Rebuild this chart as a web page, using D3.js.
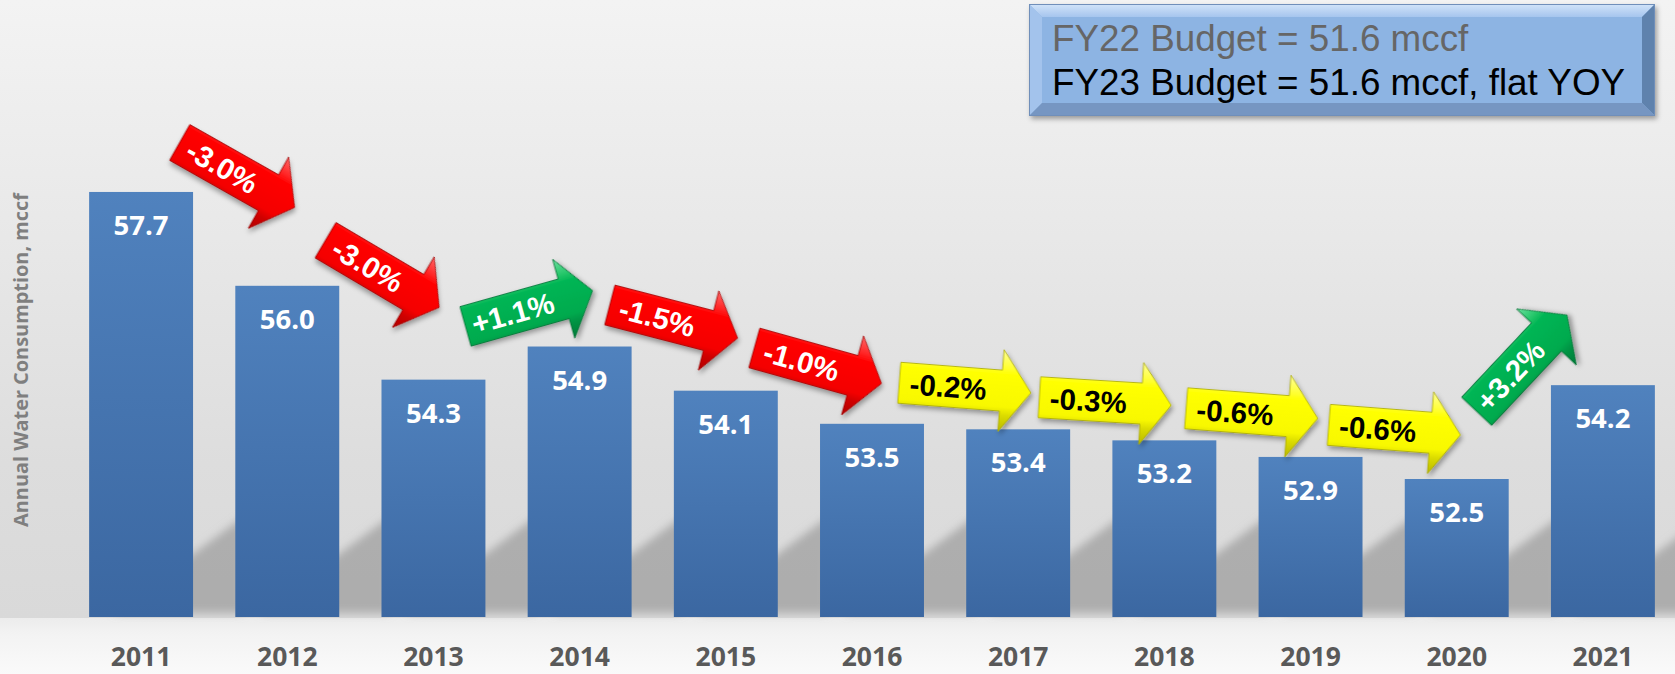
<!DOCTYPE html>
<html>
<head>
<meta charset="utf-8">
<script src="https://cdn.jsdelivr.net/npm/d3@7"></script>
<style>
  html, body { margin: 0; padding: 0; background: #ffffff; }
  svg { display: block; }
</style>
</head>
<body>
<svg id="chart" width="1675" height="674"></svg>
<script>
// ---------- data ----------
const years = ["2011","2012","2013","2014","2015","2016","2017","2018","2019","2020","2021"];
const consumption = [57.7, 56.0, 54.3, 54.9, 54.1, 53.5, 53.4, 53.2, 52.9, 52.5, 54.2];
const changeLabels = ["-3.0%","-3.0%","+1.1%","-1.5%","-1.0%","-0.2%","-0.3%","-0.6%","-0.6%","+3.2%"];
const budgetLines = ["FY22 Budget = 51.6 mccf", "FY23 Budget = 51.6 mccf, flat YOY"];
const yAxisTitle = "Annual Water Consumption, mccf";

// annotation layout for the change arrows (angle in degrees, offsets from gap midpoint / higher bar top)
const arrowAngles  = [29.5, 30.6, -15.7, 14.5, 15.6, 4.4, 3.5, 4.4, 4.4, -46.8];
const arrowShiftX  = [23, 22, 22.5, 21, 19, 20, 14, 14.5, 11, -8];
const arrowLiftY   = [17, 12, 38, 25, 25, 36, 28, 27, 27, 22];

// ---------- setup ----------
const W = 1675, H = 674;
const svg = d3.select("#chart");
const defs = svg.append("defs");

const x = d3.scaleBand().domain(years).range([68, 1676]).paddingInner(0.289).paddingOuter(0.1445);
const y = d3.scaleLinear().domain([50, 60]).range([617, 65]);
const baseY = y(50);

// background gradients
const wall = defs.append("linearGradient").attr("id","wall").attr("x1",0).attr("y1",0).attr("x2",0).attr("y2",1);
[[0,"#f3f3f3"],[0.35,"#e9e9e9"],[0.75,"#dddddd"],[1,"#d9d9d9"]].forEach(s=>wall.append("stop").attr("offset",s[0]).attr("stop-color",s[1]));
const floor = defs.append("linearGradient").attr("id","floor").attr("x1",0).attr("y1",0).attr("x2",0).attr("y2",1);
[[0,"#ececec"],[0.3,"#f3f3f3"],[1,"#fafafa"]].forEach(s=>floor.append("stop").attr("offset",s[0]).attr("stop-color",s[1]));

svg.append("rect").attr("x",0).attr("y",0).attr("width",W).attr("height",baseY+1).attr("fill","url(#wall)");
svg.append("rect").attr("x",0).attr("y",baseY+1).attr("width",W).attr("height",H-baseY-1).attr("fill","url(#floor)");

// bar gradient
const barGrad = defs.append("linearGradient").attr("id","barGrad").attr("x1",0).attr("y1",0).attr("x2",0).attr("y2",1);
[[0,"#5082be"],[1,"#3b67a1"]].forEach(s=>barGrad.append("stop").attr("offset",s[0]).attr("stop-color",s[1]));

// shadow blur
defs.append("filter").attr("id","shadowBlur").attr("x","-50%").attr("y","-50%").attr("width","200%").attr("height","200%")
  .append("feGaussianBlur").attr("stdDeviation",4);

// drop shadow for arrows / box
const ds = defs.append("filter").attr("id","drop").attr("x","-30%").attr("y","-30%").attr("width","160%").attr("height","160%");
ds.append("feDropShadow").attr("dx",2).attr("dy",3).attr("stdDeviation",2.5).attr("flood-color","#000").attr("flood-opacity",0.35);

// arrow gradients (in local frame: top edge light, bottom edge dark)
const arrowStyles = {
  red:    {stops:[[0,"#ff6a6a"],[0.22,"#ff2020"],[0.3,"#ff0000"],[0.7,"#f40000"],[0.8,"#d00000"],[1,"#b00000"]], stroke:"#a00000", text:"#ffffff"},
  green:  {stops:[[0,"#6fe0a0"],[0.22,"#20c466"],[0.3,"#00b554"],[0.7,"#00aa4e"],[0.8,"#009444"],[1,"#007a38"]], stroke:"#006e32", text:"#ffffff"},
  yellow: {stops:[[0,"#ffff9a"],[0.22,"#ffff30"],[0.3,"#ffff00"],[0.7,"#f8f800"],[0.8,"#dcdc00"],[1,"#b8b800"]], stroke:"#a8a800", text:"#000000"}
};
Object.entries(arrowStyles).forEach(([k,v])=>{
  const g = defs.append("linearGradient").attr("id","ag-"+k).attr("x1",0).attr("y1",0).attr("x2",0).attr("y2",1);
  v.stops.forEach(s=>g.append("stop").attr("offset",s[0]).attr("stop-color",s[1]));
});

// ---------- cast shadows of bars ----------
const bw = x.bandwidth();
svg.append("g").attr("filter","url(#shadowBlur)")
  .selectAll("path").data(years).join("path")
  .attr("d", d => {
    const x1 = x(d) + bw;
    return `M${x1-80},${baseY-4} L${x1+50},${baseY-4} L${x1+50},${baseY-100} Z`;
  })
  .attr("fill","#a2a2a2").attr("opacity",0.8);

// ---------- bars ----------
svg.append("g").selectAll("rect").data(years).join("rect")
  .attr("x", d => x(d))
  .attr("y", (d,i) => y(consumption[i]))
  .attr("width", bw)
  .attr("height", (d,i) => baseY - y(consumption[i]))
  .attr("fill","url(#barGrad)");

// value labels
svg.append("g").selectAll("text").data(years).join("text")
  .attr("x", d => x(d) + bw/2)
  .attr("y", (d,i) => y(consumption[i]) + 43)
  .attr("text-anchor","middle")
  .attr("font-family","'Open Sans', sans-serif").attr("font-weight",700).attr("font-size",27.5)
  .attr("fill","#ffffff")
  .text((d,i) => d3.format(".1f")(consumption[i]));

// ---------- x axis ----------
const xAxis = svg.append("g").attr("transform",`translate(0,${baseY})`)
  .call(d3.axisBottom(x).tickSize(0).tickPadding(30));
xAxis.select(".domain").remove();
xAxis.selectAll("text")
  .attr("font-family","'Open Sans', sans-serif").attr("font-weight",700).attr("font-size",26.5)
  .attr("fill","#595959");

// y axis title
svg.append("text")
  .attr("transform","translate(28,360) rotate(-90)")
  .attr("text-anchor","middle")
  .attr("font-family","'Open Sans', sans-serif").attr("font-weight",700).attr("font-size",20)
  .attr("fill","#7f7f7f")
  .attr("textLength",334).attr("lengthAdjust","spacingAndGlyphs")
  .text(yAxisTitle);

// ---------- change arrows ----------
const L = 132, headLen = 30, shaftH = 20.5, headH = 41;
const arrowPath = `M${-L/2},${-shaftH} L${L/2-headLen},${-shaftH} L${L/2-headLen},${-headH} L${L/2},0 L${L/2-headLen},${headH} L${L/2-headLen},${shaftH} L${-L/2},${shaftH} Z`;

const arrowData = changeLabels.map((lab,i) => {
  const v = parseFloat(lab);
  const kind = v > 0 ? "green" : (v <= -1 ? "red" : "yellow");
  const mid = (x(years[i]) + x(years[i+1]) + bw) / 2;
  const top = y(Math.max(consumption[i], consumption[i+1]));
  return {lab, kind, cx: mid + arrowShiftX[i], cy: top - arrowLiftY[i], ang: arrowAngles[i]};
});

const arrows = svg.append("g").selectAll("g").data(arrowData).join("g")
  .attr("transform", d => `translate(${d.cx},${d.cy}) rotate(${d.ang})`);
arrows.append("path")
  .attr("d", arrowPath)
  .attr("fill", d => `url(#ag-${d.kind})`)
  .attr("stroke", d => arrowStyles[d.kind].stroke).attr("stroke-width",0.8)
  .attr("stroke-linejoin","round")
  .attr("filter","url(#drop)");
arrows.append("text")
  .attr("x", -(headLen)/2 - 2).attr("y", 0)
  .attr("dy","0.36em")
  .attr("text-anchor","middle")
  .attr("font-family","'Liberation Sans', Arial, sans-serif").attr("font-weight",700).attr("font-size",29.5)
  .attr("fill", d => arrowStyles[d.kind].text)
  .text(d => d.lab);

// ---------- budget box ----------
const bx0 = 1029, by0 = 4, bx1 = 1655, by1 = 116, bv = 13;
const box = svg.append("g").attr("filter","url(#drop)");
box.append("rect").attr("x",bx0).attr("y",by0).attr("width",bx1-bx0).attr("height",by1-by0).attr("fill","#8db4e3");
const topG = defs.append("linearGradient").attr("id","bevTop").attr("x1",0).attr("y1",0).attr("x2",0).attr("y2",1);
[[0,"#d2e4f9"],[1,"#a6c5ee"]].forEach(s=>topG.append("stop").attr("offset",s[0]).attr("stop-color",s[1]));
box.append("path").attr("d",`M${bx0},${by0} L${bx1},${by0} L${bx1-bv},${by0+bv} L${bx0+bv},${by0+bv} Z`).attr("fill","url(#bevTop)");
box.append("path").attr("d",`M${bx0},${by0} L${bx0+bv},${by0+bv} L${bx0+bv},${by1-bv} L${bx0},${by1} Z`).attr("fill","#a3c3ec");
box.append("path").attr("d",`M${bx1},${by0} L${bx1},${by1} L${bx1-bv},${by1-bv} L${bx1-bv},${by0+bv} Z`).attr("fill","#5e82ad");
box.append("path").attr("d",`M${bx0},${by1} L${bx1},${by1} L${bx1-bv},${by1-bv} L${bx0+bv},${by1-bv} Z`).attr("fill","#7696c2");
box.append("rect").attr("x",bx0+0.5).attr("y",by0+0.5).attr("width",bx1-bx0-1).attr("height",by1-by0-1)
  .attr("fill","none").attr("stroke","#6f8fba").attr("stroke-width",1);

svg.append("g").selectAll("text").data(budgetLines).join("text")
  .attr("x", 1052)
  .attr("y", (d,i) => 51 + i*44)
  .attr("font-family","'Liberation Sans', Arial, sans-serif").attr("font-size",36.8)
  .attr("fill", (d,i) => i === 0 ? "#666666" : "#000000")
  .text(d => d);
</script>
</body>
</html>
